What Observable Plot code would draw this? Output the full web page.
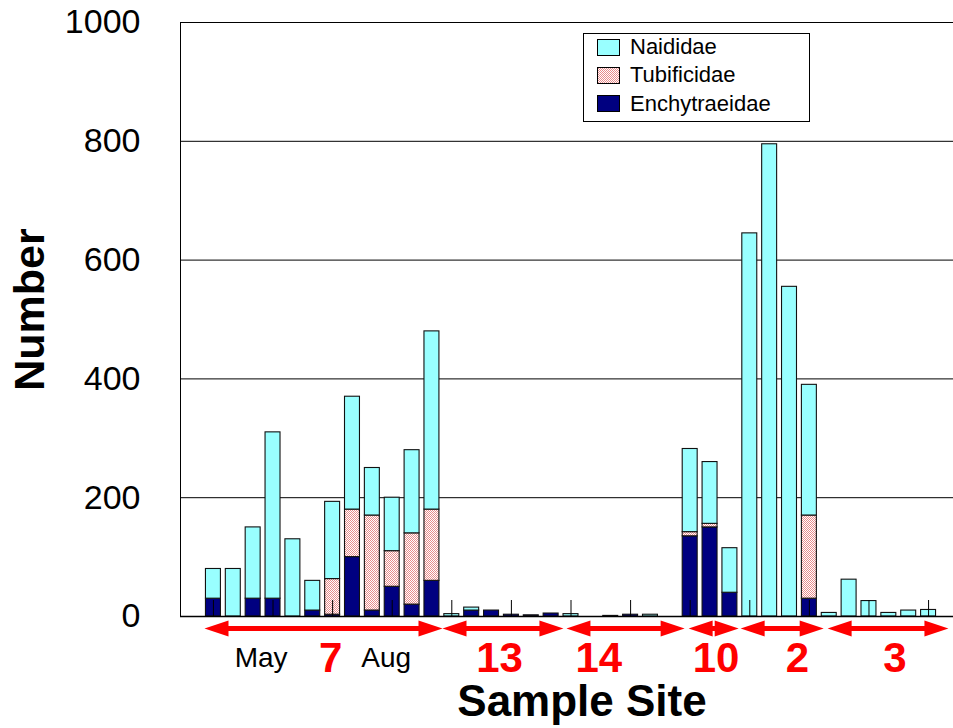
<!DOCTYPE html>
<html><head><meta charset="utf-8">
<script src="https://cdn.jsdelivr.net/npm/d3@7"></script>
<script src="https://cdn.jsdelivr.net/npm/@observablehq/plot@0.6"></script>
<style>
body{margin:0;background:#fff;}
#wrap{position:relative;width:953px;height:728px;font-family:"Liberation Sans",Arial,sans-serif;}
#legend{position:absolute;left:583px;top:33px;width:227px;height:89px;border:1px solid #000;background:#fff;box-sizing:border-box;}
.row{position:absolute;left:13px;height:20px;display:flex;align-items:center;font-size:22px;color:#000;white-space:nowrap;}
.sw{width:23px;height:17px;margin-right:10px;display:block;}
</style></head><body><div id="wrap"><div id="legend"></div></div>
<script>
// ---- data ----
const slots = d3.range(37);
const naididae =      [50,80,120,280,130,50,130,190,80,90,140,300, 4,5,0,0,0,0, 4,0,1,0,3,0, 140,104,75, 645,795,555,220, 6,62,26,6,10,11];
const tubificidae =   [0,0,0,0,0,0,60,80,160,60,120,120, 0,0,0,0,0,0, 0,0,0,0,0,0, 7,6,0, 0,0,0,140, 0,0,0,0,0,0];
const enchytraeidae = [30,0,30,30,0,10,3,100,10,50,20,60, 0,10,10,3,2,5, 0,0,0,3,0,0, 135,150,40, 0,0,0,30, 0,0,0,0,0,0];
const families = ["Enchytraeidae","Tubificidae","Naididae"];
const legendOrder = ["Naididae","Tubificidae","Enchytraeidae"];
const familyColors = ["#000080","url(#tubiPattern)","#99ffff"];
const yTicks = [0,200,400,600,800,1000];
const axisTickSlots = [0,3,6,9,12,15,18,21,24,27,30,33,36];
const sites = ["7","13","14","10","2","3"];
const arrowFrom = [-0.45, 11.53, 17.77, 23.92, 26.54, 30.92];
const arrowTo =   [11.53, 17.62, 23.72, 26.44, 30.72, 37.0];
const siteLabelAt = [5.9, 14.4, 19.4, 25.3, 29.4, 34.3];
const monthLabels = ["May","Aug"];
const monthLabelAt = [2.4, 8.7];

// ---- tables ----
const series = {Enchytraeidae: enchytraeidae, Tubificidae: tubificidae, Naididae: naididae};
const rows = [];
for (const s of slots) for (const f of families) {
  const v = series[f][s];
  if (v > 0) rows.push({slot: s, family: f, value: v});
}
const arrows = sites.map((site, i) => ({site, from: arrowFrom[i], to: arrowTo[i]}));
const siteLabels = sites.map((site, i) => ({site, at: siteLabelAt[i]}));
const months = monthLabels.map((m, i) => ({m, at: monthLabelAt[i]}));

const arrowHead = {draw(ctx) { ctx.moveTo(0, 0); ctx.lineTo(-24, -8); ctx.lineTo(-24, 8); ctx.closePath(); }};
const font = "Liberation Sans, Arial, sans-serif";

const plot = Plot.plot({
  width: 953, height: 728,
  marginLeft: 180, marginRight: 0, marginTop: 22, marginBottom: 112,
  style: {fontFamily: font, fontSize: "34px", background: "white", color: "black", overflow: "visible"},
  x: {type: "linear", domain: [-0.5, 36.5], insetLeft: 23, insetRight: 15, axis: null},
  y: {domain: [0, 1000], axis: null},
  color: {type: "ordinal", domain: families, range: familyColors},
  marks: [
    Plot.ruleY(yTicks.filter(v => v > 0), {stroke: "#000", strokeWidth: 1}),
    Plot.frame({anchor: "left", stroke: "#000"}),
    Plot.rectY(rows, {
      x1: d => d.slot - 0.5, x2: d => d.slot + 0.5, y: "value", fill: "family",
      insetLeft: 2.45, insetRight: 2.45, stroke: "#111", strokeWidth: 1.1
    }),
    Plot.tickX(axisTickSlots, {x: d => d, y: null, insetTop: 578, stroke: "#000", strokeWidth: 1}),
    Plot.ruleY([0], {stroke: "#000", strokeWidth: 1.6}),
    Plot.axisY(yTicks, {tickSize: 0, tickPadding: 40, fontSize: 34, tickFormat: d => String(d), label: null, fill: "#000"}),
    Plot.ruleY(arrows, {x1: "from", x2: "to", y: () => 0, dy: 12, insetLeft: 14, insetRight: 14, stroke: "#ff0000", strokeWidth: 5}),
    Plot.dot(arrows, {x: "to", y: () => 0, dy: 12, symbol: arrowHead, fill: "#ff0000", stroke: "none"}),
    Plot.dot(arrows, {x: "from", y: () => 0, dy: 12, symbol: arrowHead, rotate: 180, fill: "#ff0000", stroke: "none"}),
    Plot.text(siteLabels, {x: "at", y: () => 0, dy: 42, text: "site", fill: "#ff0000", fontWeight: "bold", fontSize: 42, fontFamily: font}),
    Plot.text(months, {x: "at", y: () => 0, dy: 42, text: "m", fill: "#000", fontSize: 28, fontFamily: font}),
    Plot.text(["Sample Site"], {frameAnchor: "bottom", textAnchor: "middle", dx: 15, dy: 99, text: d => d, fill: "#000", fontWeight: "bold", fontSize: 44, fontFamily: font}),
    Plot.text(["Number"], {frameAnchor: "left", textAnchor: "middle", dx: -150, dy: -10, rotate: -90, text: d => d, fill: "#000", fontWeight: "bold", fontSize: 43, fontFamily: font})
  ]
});

const ns = "http://www.w3.org/2000/svg";
const defs = document.createElementNS(ns, "defs");
defs.innerHTML = '<pattern id="tubiPattern" width="2" height="2" patternUnits="userSpaceOnUse"><rect width="2" height="2" fill="#ffffff"/><rect width="1" height="1" fill="#e88c8c"/><rect x="1" y="1" width="1" height="1" fill="#e88c8c"/></pattern>';
plot.insertBefore(defs, plot.firstChild);
document.getElementById("wrap").insertBefore(plot, document.getElementById("legend"));

// legend
const legend = document.getElementById("legend");
const colorOf = f => familyColors[families.indexOf(f)];
legendOrder.forEach((f, i) => {
  const row = document.createElement("div");
  row.className = "row";
  row.style.top = (3 + i * 28.3) + "px";
  const sw = document.createElementNS(ns, "svg");
  sw.setAttribute("class", "sw");
  sw.setAttribute("width", "23");
  sw.setAttribute("height", "17");
  const r = document.createElementNS(ns, "rect");
  r.setAttribute("x", "0.5"); r.setAttribute("y", "0.5");
  r.setAttribute("width", "22"); r.setAttribute("height", "16");
  r.setAttribute("fill", colorOf(f));
  r.setAttribute("stroke", "#000");
  sw.appendChild(r);
  row.appendChild(sw);
  const t = document.createElement("span");
  t.textContent = f;
  row.appendChild(t);
  legend.appendChild(row);
});
</script>
</body></html>
